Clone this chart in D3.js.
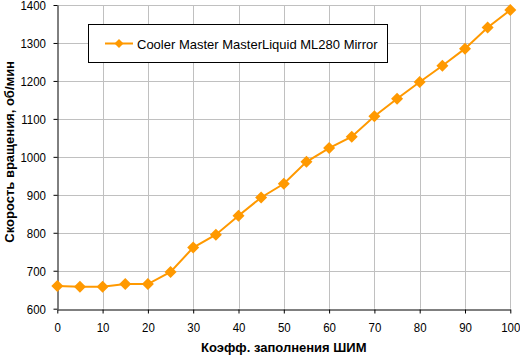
<!DOCTYPE html>
<html><head><meta charset="utf-8">
<script src="https://cdn.jsdelivr.net/npm/d3@7/dist/d3.min.js"></script>
<style>body{margin:0;background:#fff}svg{display:block}</style>
</head><body><svg id="c" width="520" height="355"></svg>
<script>
const pwm = [0,5,10,15,20,25,30,35,40,45,50,55,60,65,70,75,80,85,90,95,100];
const rpm = [660,658,658,665,665,697,761,795,845,893,929,987,1023,1053,1107,1153,1197,1240,1285,1341,1387];
const xTicks = [0,10,20,30,40,50,60,70,80,90,100];
const yTicks = [600,700,800,900,1000,1100,1200,1300,1400];
const seriesName = "Cooler Master MasterLiquid ML280 Mirror";
const xTitle = "Коэфф. заполнения ШИМ";
const yTitle = "Скорость вращения, об/мин";

const svg = d3.select("#c");
const L=57.3, R=510.3, T=5, B=308.7;
const x = d3.scaleLinear().domain([0,100]).range([L,R]);
const y = d3.scaleLinear().domain([600,1400]).range([B,T]);
const font = "'Liberation Sans',Arial,sans-serif";
const grid = "#c0c0c0", orange = "#ff9900";

// gridlines
svg.append("g").selectAll("line").data(xTicks.slice(1)).join("line")
  .attr("x1",d=>Math.round(x(d))+0.5).attr("x2",d=>Math.round(x(d))+0.5)
  .attr("y1",T).attr("y2",B).attr("stroke",grid);
svg.append("g").selectAll("line").data(yTicks.slice(1)).join("line")
  .attr("y1",d=>Math.round(y(d))+0.5).attr("y2",d=>Math.round(y(d))+0.5)
  .attr("x1",L).attr("x2",R).attr("stroke",grid);

// axes
const fmt = d3.format("d");
const xa = svg.append("g").attr("transform",`translate(0,${Math.round(B)+0.5})`)
  .call(d3.axisBottom(x).tickValues(xTicks).tickFormat(fmt).tickSize(4).tickSizeOuter(0));
const ya = svg.append("g").attr("transform",`translate(${Math.round(L)+0.5},0)`)
  .call(d3.axisLeft(y).tickValues(yTicks).tickFormat(fmt).tickSize(4).tickSizeOuter(0));
[xa,ya].forEach(a=>{
  a.select(".domain").attr("stroke","#000");
  a.selectAll(".tick line").attr("stroke","#000");
  a.selectAll("text").attr("font-family",font).attr("font-size",13.5).attr("fill","#000");
});
xa.selectAll(".tick text").attr("x",0).attr("y",0).attr("dy",0)
  .attr("transform","translate(0,22.5) scale(0.85,1)");
ya.selectAll(".tick text").attr("x",0).attr("dy","0.35em")
  .attr("transform","translate(-11.5,0) scale(0.85,1)");

// line + markers
svg.append("path").datum(pwm.map((p,i)=>[p,rpm[i]]))
  .attr("fill","none").attr("stroke",orange).attr("stroke-width",2)
  .attr("d",d3.line().x(d=>x(d[0])).y(d=>y(d[1])));
const dia = (cx,cy,r)=>`M${cx},${cy-r}L${cx+r},${cy}L${cx},${cy+r}L${cx-r},${cy}Z`;
svg.append("g").selectAll("path").data(pwm).join("path")
  .attr("d",(p,i)=>dia(x(p),y(rpm[i]),6)).attr("fill",orange);

// legend
svg.append("rect").attr("x",88.5).attr("y",24.5).attr("width",299).attr("height",38)
  .attr("fill","#fff").attr("stroke","#000");
svg.append("line").attr("x1",105).attr("x2",133).attr("y1",43.5).attr("y2",43.5)
  .attr("stroke",orange).attr("stroke-width",2);
svg.append("path").attr("d",dia(119,43.5,4.5)).attr("fill",orange);
svg.append("text").attr("x",137).attr("y",48.5).attr("font-family",font).attr("font-size",13)
  .text(seriesName);

// titles
svg.append("text").attr("x",(L+R)/2).attr("y",352).attr("text-anchor","middle")
  .attr("font-family",font).attr("font-weight","bold").attr("font-size",13)
  .text(xTitle);
svg.append("text").attr("transform",`translate(14,${(T+B)/2 - 5}) rotate(-90)`).attr("text-anchor","middle")
  .attr("font-family",font).attr("font-weight","bold").attr("font-size",13)
  .text(yTitle);
</script></body></html>
